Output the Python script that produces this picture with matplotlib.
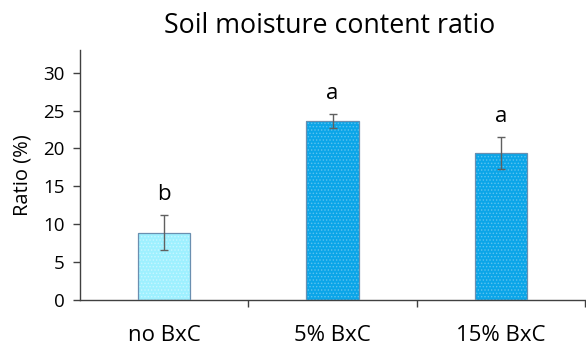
import matplotlib
matplotlib.use("Agg")
import matplotlib.pyplot as plt
import numpy as np

plt.rcParams['font.family'] = ['Open Sans', 'DejaVu Sans']
plt.rcParams['hatch.linewidth'] = 0.6

categories = ["no BxC", "5% BxC", "15% BxC"]
values = [8.9, 23.6, 19.4]
errors = [2.3, 0.95, 2.1]
letters = ["b", "a", "a"]
yticks = [0, 5, 10, 15, 20, 25, 30]
title = "Soil moisture content ratio"
ylabel = "Ratio (%)"

colors = ["#9EF0FF", "#0BA5E8", "#0BA5E8"]
hatch_colors = ["#C8F6FF", "#5CC3F0", "#5CC3F0"]

fig = plt.figure(figsize=(5.86, 3.45), dpi=100)
ax = fig.add_axes([80/586, 1 - 300/345, 505/586, 250/345])

x = np.arange(len(categories))
for i in range(len(categories)):
    ax.bar(x[i], values[i], width=0.31, color=colors[i], edgecolor=hatch_colors[i],
           hatch='.....', linewidth=0, zorder=2)
    ax.bar(x[i], values[i], width=0.31, fill=False, edgecolor="#6A8FB0",
           linewidth=0.9, zorder=3)
ax.errorbar(x, values, yerr=errors, fmt='none', ecolor="#606060", elinewidth=1,
            capsize=3, capthick=1, zorder=4)
for i in range(len(categories)):
    ax.text(x[i], values[i] + errors[i] + 1.3, letters[i], ha='center', va='bottom',
            fontsize=16, color='black')

ax.set_xlim(-0.5, 2.5)
ax.set_ylim(0, 33)
ax.set_yticks(yticks)
ax.set_yticklabels([str(v) for v in yticks], fontsize=13.5)
ax.set_xticks(x)
ax.set_xticklabels(categories, fontsize=16)
ax.tick_params(axis='x', length=0, pad=18)
ax.set_xticks([0.5, 1.5, 2.5], minor=True)
ax.tick_params(axis='x', which='minor', length=5, width=1, color="#404040", direction='out')
ax.tick_params(axis='y', length=5, width=1, color="#404040", direction='out', pad=6)

for s in ['top', 'right']:
    ax.spines[s].set_visible(False)
for s in ['left', 'bottom']:
    ax.spines[s].set_color("#404040")
    ax.spines[s].set_linewidth(1)

ax.set_ylabel(ylabel, fontsize=14.5, labelpad=8)
fig.text(0.563, 0.925, title, ha='center', va='center', fontsize=19.3)

fig.savefig("out.png", dpi=100)
